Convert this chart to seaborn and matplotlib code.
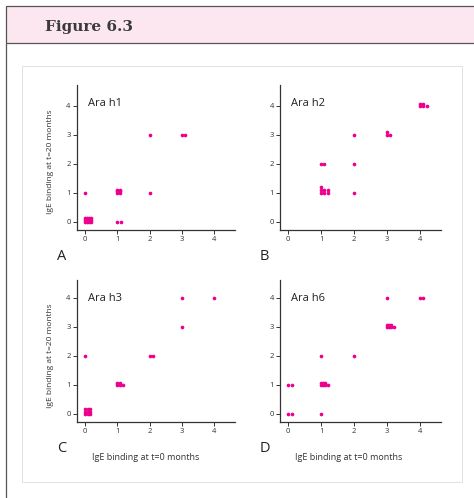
import matplotlib
matplotlib.use("Agg")
import matplotlib.pyplot as plt
from matplotlib.patches import Rectangle
from matplotlib.lines import Line2D
import seaborn as sns
import pandas as pd

# Datos (puntos apilados ligeramente desplazados)
h1_x = [0, 0.065, 0.13, 0.195, 0, 0.065, 0.13, 0.195, 0, 0.065, 0.13, 0.195,
        0, 1.0, 1.1, 1.0, 1.08, 1.0, 1.08, 1.0, 1.08, 2, 2, 3.0, 3.1]
h1_y = [0, 0, 0, 0, 0.07, 0.07, 0.07, 0.07, 0.14, 0.14, 0.14, 0.14,
        1, 0, 0, 1.0, 1.0, 1.05, 1.05, 1.1, 1.1, 3, 1, 3, 3]

h2_x = [1.0, 1.1, 1.0, 1.0, 1.0, 1.1, 1.1, 1.2, 1.2, 2, 2, 2,
        3.0, 3.0, 3.1, 4.0, 4.0, 4.08, 4.08, 4.2]
h2_y = [2, 2, 1.2, 1.1, 1.0, 1.1, 1.0, 1.1, 1.0, 3, 2, 1,
        3.1, 3.0, 3.0, 4.08, 4.0, 4.08, 4.0, 4.0]

h3_x = [0, 0.08, 0.16, 0, 0.08, 0.16, 0, 0.08, 0.16, 0,
        1.0, 1.08, 1.0, 1.08, 1.18, 2.0, 2.1, 3, 3, 4]
h3_y = [0, 0, 0, 0.08, 0.08, 0.08, 0.16, 0.16, 0.16, 2,
        1.08, 1.08, 1.0, 1.0, 1.0, 2, 2, 4, 3, 4]

h6_x = [0, 0.1, 0, 0.1, 1, 1, 1.0, 1.06, 1.12, 1.0, 1.06, 1.12, 1.2, 2,
        3, 4.0, 4.1, 3.0, 3.06, 3.12, 3.0, 3.06, 3.12, 3.22]
h6_y = [1, 1, 0, 0, 2, 0, 1.08, 1.08, 1.08, 1.0, 1.0, 1.0, 1.0, 2,
        4, 4, 4, 3.08, 3.08, 3.08, 3.0, 3.0, 3.0, 3.0]

panels = [("Ara h1", "A", h1_x, h1_y), ("Ara h2", "B", h2_x, h2_y),
          ("Ara h3", "C", h3_x, h3_y), ("Ara h6", "D", h6_x, h6_y)]
ticks = [0, 1, 2, 3, 4]

PINK = "#ec008c"
W, H = 474, 498

sns.set_style("white")
plt.rcParams["font.family"] = ["Open Sans", "DejaVu Sans"]

fig = plt.figure(figsize=(W / 100, H / 100), dpi=100)

# Marco y cabecera rosa
fig.patches.append(Rectangle((6 / W, 1 - 43 / H), 1, 37 / H, transform=fig.transFigure,
                             facecolor="#fce6ef", edgecolor="#555555", lw=0.9))
fig.lines.append(Line2D([6 / W, 6 / W], [0, 1 - 43 / H], transform=fig.transFigure,
                        color="#555555", lw=0.9))
fig.patches.append(Rectangle((22 / W, 1 - 482 / H), 440 / W, 416 / H, transform=fig.transFigure,
                             facecolor="none", edgecolor="#dddddd", lw=0.6))
fig.text(45 / W, 1 - 27 / H, "Figure 6.3", family="DejaVu Serif", weight="bold",
         fontsize=11, color="#3a3a3a", va="center", ha="left")

# Posiciones de los paneles en pixeles (izq, arriba, der, abajo)
boxes = [(77, 85, 235, 230), (280, 85, 441, 230), (77, 280, 235, 422), (280, 280, 441, 422)]

for (title, letter, xs, ys), (l, t, r, b) in zip(panels, boxes):
    ax = fig.add_axes([l / W, 1 - b / H, (r - l) / W, (b - t) / H])
    df = pd.DataFrame({"x": xs, "y": ys})
    sns.scatterplot(data=df, x="x", y="y", ax=ax, color=PINK, s=7, linewidth=0)
    ax.set_xlim(-0.25, 4.64)
    ax.set_ylim(-0.28, (b - t) / 29 - 0.28)
    ax.set_xticks(ticks)
    ax.set_yticks(ticks)
    ax.set_xlabel("")
    ax.set_ylabel("")
    sns.despine(ax=ax)
    for s in ["left", "bottom"]:
        ax.spines[s].set_color("#333333")
        ax.spines[s].set_linewidth(0.9)
    ax.tick_params(length=3, width=0.7, labelsize=5.5, colors="#333333", pad=1.5,
                   left=True, bottom=True)
    ax.text(0.07, 0.87, title, transform=ax.transAxes, fontsize=8, color="#222222",
            va="center", ha="left")
    fig.text((l - 20) / W, 1 - (b + 26) / H, letter, fontsize=10.5, color="#222222",
             va="center", ha="left")

# Etiquetas de ejes
fig.text(51 / W, 1 - 162 / H, "IgE binding at t=20 months", rotation=90, fontsize=6,
         color="#333333", va="center", ha="center")
fig.text(51 / W, 1 - 356 / H, "IgE binding at t=20 months", rotation=90, fontsize=6,
         color="#333333", va="center", ha="center")
fig.text(146 / W, 1 - 457 / H, "IgE binding at t=0 months", fontsize=6.5,
         color="#333333", va="center", ha="center")
fig.text(349 / W, 1 - 457 / H, "IgE binding at t=0 months", fontsize=6.5,
         color="#333333", va="center", ha="center")

fig.savefig("out.png", dpi=100)
